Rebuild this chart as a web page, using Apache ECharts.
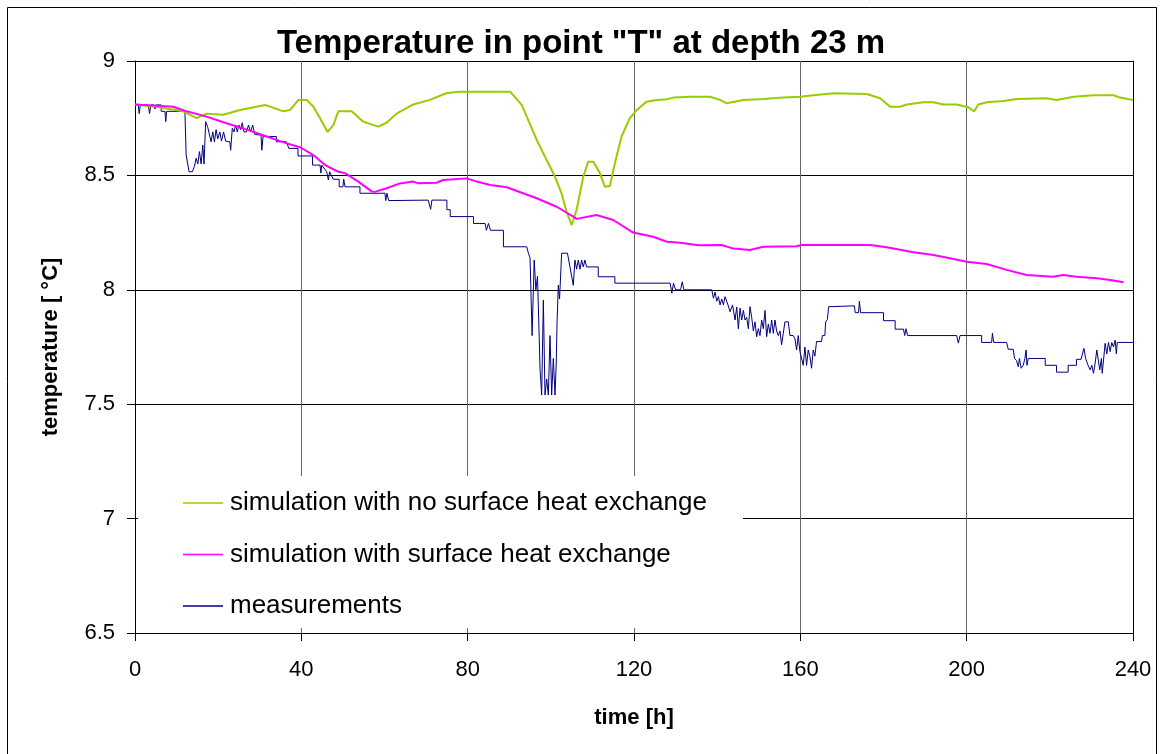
<!DOCTYPE html>
<html>
<head>
<meta charset="utf-8">
<title>Temperature in point "T" at depth 23 m</title>
<script src="https://cdn.jsdelivr.net/npm/echarts@6/dist/echarts.min.js"></script>
<style>
  html, body { margin: 0; padding: 0; background: #fff; }
  #chart { width: 1162px; height: 754px; }
</style>
</head>
<body>
<div id="chart"></div>
<script>
// Time axis ticks [h] and temperature axis ticks [°C]
const timeTicks = [0, 40, 80, 120, 160, 200, 240];
const tempTicks = [6.5, 7, 7.5, 8, 8.5, 9];

const seriesNames = [
  'simulation with no surface heat exchange',
  'simulation with surface heat exchange',
  'measurements'
];

// [time h, temperature °C]
const noSurfaceExchange = [
  [0, 8.81], [5, 8.80], [11.6, 8.78], [14.8, 8.75], [17.2, 8.77], [21.2, 8.765],
  [25.3, 8.786], [31.3, 8.808], [35.7, 8.78], [37.3, 8.786], [39.3, 8.83], [41.3, 8.83],
  [42.9, 8.80], [44.5, 8.75], [46.3, 8.69], [47.7, 8.72], [48.9, 8.78], [52.1, 8.78],
  [54.9, 8.735], [58.5, 8.713], [60.5, 8.73], [62.9, 8.77], [66.9, 8.81], [70.9, 8.83],
  [75, 8.86], [78.2, 8.866], [90.2, 8.866], [93, 8.808], [96.6, 8.655], [99, 8.567],
  [101, 8.494], [102.6, 8.42], [103.8, 8.34], [105, 8.283], [106.2, 8.35], [107.8, 8.494],
  [109, 8.56], [110.2, 8.56], [111.8, 8.51], [113, 8.45], [114.2, 8.454], [115.4, 8.553],
  [117, 8.67], [119, 8.75], [120.7, 8.786], [123, 8.822], [125.5, 8.83], [127.9, 8.833],
  [129.5, 8.84], [133.5, 8.844], [138.3, 8.844], [140.7, 8.83], [142.3, 8.815], [146.3, 8.83],
  [151.1, 8.834], [155.9, 8.84], [159.9, 8.844], [163.1, 8.85], [168, 8.859], [176, 8.856],
  [179.2, 8.837], [181.6, 8.80], [184, 8.80], [185.6, 8.81], [189.6, 8.82], [192, 8.82],
  [194.4, 8.81], [197.6, 8.81], [200.4, 8.798], [201.8, 8.78], [202.8, 8.81], [204.8, 8.82],
  [208.8, 8.825], [212, 8.834], [219.2, 8.837], [221.6, 8.83], [225.7, 8.844], [230.5, 8.85],
  [235.3, 8.85], [236.9, 8.84], [240, 8.83]
];

const withSurfaceExchange = [
  [0, 8.81], [9.2, 8.80], [12.4, 8.78], [17.2, 8.757], [22, 8.728], [26.9, 8.70],
  [31.7, 8.67], [36.5, 8.64], [39.7, 8.623], [42.9, 8.589], [45.7, 8.545], [48.9, 8.516],
  [50.5, 8.51], [53.7, 8.473], [56.9, 8.43], [57.7, 8.428], [60.5, 8.444], [63.7, 8.465],
  [66.9, 8.473], [68, 8.466], [72.5, 8.468], [74.1, 8.48], [79.8, 8.487], [82.2, 8.473],
  [85.4, 8.458], [89.4, 8.448], [96.6, 8.40], [101.4, 8.363], [105.4, 8.32], [106.2, 8.31],
  [111, 8.327], [115, 8.305], [119.8, 8.25], [124.6, 8.232], [127.9, 8.21], [131.1, 8.206],
  [135.5, 8.195], [141.1, 8.196], [143.9, 8.18], [147.9, 8.174], [151.1, 8.188], [159.1, 8.19],
  [160.3, 8.196], [176.8, 8.196], [180.8, 8.186], [187.2, 8.164], [192, 8.152], [196, 8.138],
  [200, 8.123], [204.8, 8.113], [209.6, 8.087], [214.4, 8.065], [220.8, 8.057], [223.2, 8.065],
  [226.4, 8.057], [231.3, 8.05], [234.5, 8.043], [237.7, 8.033]
];

const measured = [
  [0, 8.808], [0.8, 8.808], [1.0, 8.77], [1.3, 8.808], [3.2, 8.808], [3.5, 8.77], [3.8, 8.808],
  [4.6, 8.808], [4.8, 8.79], [5.0, 8.808], [6.3, 8.808], [6.3, 8.78], [7.2, 8.78], [7.4, 8.735],
  [7.6, 8.78], [12.0, 8.78], [12.3, 8.59], [13.0, 8.516], [13.8, 8.516], [14.3, 8.54], [14.7, 8.575],
  [15.1, 8.55], [15.5, 8.604], [15.9, 8.55], [16.3, 8.633], [16.6, 8.55], [17.0, 8.735], [17.5, 8.71],
  [18.3, 8.647], [18.7, 8.69], [19.1, 8.647], [19.5, 8.70], [19.9, 8.66], [20.4, 8.69], [20.8, 8.65],
  [21.3, 8.69], [21.8, 8.65], [22.8, 8.647], [23.0, 8.61], [23.4, 8.706], [23.8, 8.69], [24.2, 8.72],
  [24.6, 8.69], [25.0, 8.72], [25.4, 8.70], [25.8, 8.73], [26.2, 8.69], [26.8, 8.69], [27.3, 8.72],
  [27.8, 8.69], [28.3, 8.72], [28.8, 8.68], [29.6, 8.677], [30.3, 8.677], [30.5, 8.61], [30.8, 8.67],
  [34.0, 8.67], [34.0, 8.647], [36.4, 8.647], [37.0, 8.618], [39.2, 8.618], [39.2, 8.585],
  [42.7, 8.585], [42.7, 8.545], [44.5, 8.545], [44.7, 8.51], [44.9, 8.545], [46.1, 8.516],
  [46.5, 8.48], [46.8, 8.516], [47.7, 8.483], [49.1, 8.483], [49.1, 8.45], [50.0, 8.45],
  [50.2, 8.483], [50.5, 8.45], [54.1, 8.45], [54.1, 8.422], [60.1, 8.422], [60.3, 8.39],
  [60.6, 8.422], [61.0, 8.39], [61.2, 8.392], [70.5, 8.392], [71.1, 8.352], [71.4, 8.392],
  [75, 8.392], [75, 8.35], [75.8, 8.35], [75.8, 8.32], [81.4, 8.32], [81.4, 8.29], [84.2, 8.29],
  [84.5, 8.26], [85.0, 8.29], [85.5, 8.26], [88.6, 8.26], [88.6, 8.188], [94.2, 8.188],
  [94.6, 8.16], [95.0, 8.14], [95.5, 7.80], [96.0, 8.13], [96.4, 8.0], [96.8, 8.06], [97.4, 7.657],
  [97.8, 7.54], [98.2, 7.955], [98.6, 7.54], [99.0, 7.61], [99.4, 7.54], [99.8, 7.80], [100.2, 7.54],
  [100.6, 7.70], [101.0, 7.54], [101.3, 7.68], [101.5, 7.86], [101.8, 8.02], [102.1, 7.96],
  [102.6, 8.16], [104.0, 8.16], [104.6, 8.10], [105.4, 8.02], [105.8, 8.13], [106.2, 8.09],
  [106.6, 8.13], [107.0, 8.09], [107.4, 8.13], [107.8, 8.10], [108.2, 8.13], [108.6, 8.10],
  [111.4, 8.10], [111.4, 8.057], [115.4, 8.057], [115.4, 8.029], [128.7, 8.029], [129.1, 7.985],
  [129.5, 8.029], [130.0, 8.0], [131.2, 8.0], [131.6, 8.035], [132.0, 8.0], [138.7, 8.0],
  [139.1, 7.963], [139.5, 7.99], [139.9, 7.95], [140.3, 7.97], [140.7, 7.934], [141.1, 7.96],
  [141.5, 7.934], [141.9, 7.97], [142.6, 7.934], [143.1, 7.904], [143.7, 7.934], [144.3, 7.868],
  [144.7, 7.925], [145.1, 7.83], [145.5, 7.92], [145.9, 7.868], [146.3, 7.91], [146.7, 7.868],
  [147.1, 7.88], [147.5, 7.83], [147.9, 7.926], [148.3, 7.88], [148.7, 7.82], [149.1, 7.86],
  [149.5, 7.795], [149.9, 7.83], [150.3, 7.80], [150.7, 7.868], [151.1, 7.83], [151.5, 7.91],
  [151.9, 7.795], [152.3, 7.85], [152.7, 7.81], [153.1, 7.868], [153.5, 7.81], [153.9, 7.868],
  [154.3, 7.82], [154.7, 7.80], [155.1, 7.82], [155.5, 7.76], [155.9, 7.81], [156.3, 7.86],
  [156.7, 7.868], [157.1, 7.86], [157.5, 7.80], [158.3, 7.80], [158.7, 7.786], [159.1, 7.737],
  [159.5, 7.80], [159.9, 7.73], [160.3, 7.737], [160.7, 7.67], [161.1, 7.75], [161.5, 7.67],
  [161.9, 7.737], [162.3, 7.71], [162.7, 7.657], [163.1, 7.737], [163.5, 7.71], [163.9, 7.774],
  [165.1, 7.774], [165.3, 7.80], [165.9, 7.80], [166.1, 7.86], [166.5, 7.87], [166.8, 7.926],
  [173.0, 7.93], [173.2, 7.90], [174.0, 7.90], [174.2, 7.95], [174.5, 7.90], [180.0, 7.90],
  [180.0, 7.865], [182.8, 7.865], [182.8, 7.828], [184.8, 7.828], [185.1, 7.80], [185.4, 7.83],
  [185.8, 7.80], [197.6, 7.80], [198.0, 7.767], [198.4, 7.80], [203.6, 7.80], [203.6, 7.77],
  [206.0, 7.77], [206.2, 7.81], [206.5, 7.77], [209.6, 7.77], [210.0, 7.74], [211.2, 7.74],
  [211.5, 7.70], [212.0, 7.69], [212.4, 7.664], [212.7, 7.70], [213.1, 7.657], [213.6, 7.67],
  [214.0, 7.70], [214.3, 7.737], [214.5, 7.67], [214.8, 7.70], [218.9, 7.70], [218.9, 7.67],
  [221.6, 7.67], [221.6, 7.64], [224.4, 7.64], [224.4, 7.67], [226.4, 7.67], [226.4, 7.696],
  [227.5, 7.696], [228.2, 7.744], [228.6, 7.70], [229.2, 7.67], [229.7, 7.65], [230.1, 7.67],
  [230.5, 7.635], [230.9, 7.68], [231.3, 7.737], [231.6, 7.737], [232.0, 7.65], [232.4, 7.70],
  [232.6, 7.635], [233.0, 7.71], [233.3, 7.766], [233.7, 7.72], [234.1, 7.77], [234.5, 7.73],
  [234.9, 7.77], [235.3, 7.75], [235.7, 7.78], [236.0, 7.72], [236.2, 7.77], [240, 7.77]
];

const FONT = "'Liberation Sans', Arial, Helvetica, sans-serif";

const chart = echarts.init(document.getElementById('chart'), null, { renderer: 'canvas' });

chart.setOption({
  backgroundColor: '#ffffff',
  animation: false,
  title: {
    text: 'Temperature in point "T" at depth 23 m',
    left: 'center',
    top: 22,
    textStyle: { fontFamily: FONT, fontSize: 33, fontWeight: 'bold', color: '#000' }
  },
  graphic: [{
    type: 'rect',
    shape: { x: 7.5, y: 7.5, width: 1149, height: 800 },
    style: { fill: 'none', stroke: '#000', lineWidth: 1 },
    silent: true,
    z: -1
  }],
  legend: {
    orient: 'vertical',
    left: 138,
    top: 476,
    padding: [12, 36, 7, 45],
    backgroundColor: '#ffffff',
    itemWidth: 40,
    itemHeight: 14,
    itemGap: 21.5,
    selectedMode: false,
    icon: 'path://M0,6 L40,6 L40,7.5 L0,7.5 Z',
    textStyle: { fontFamily: FONT, fontSize: 26, lineHeight: 30, color: '#000', padding: [0, 0, 0, 2] },
    data: seriesNames
  },
  grid: {
    left: 135, right: 29, top: 61, bottom: 121,
    show: false
  },
  xAxis: {
    type: 'value',
    min: timeTicks[0],
    max: timeTicks[timeTicks.length - 1],
    interval: timeTicks[1] - timeTicks[0],
    name: 'time [h]',
    nameLocation: 'middle',
    nameGap: 74,
    nameTextStyle: { fontFamily: FONT, fontSize: 22, fontWeight: 'bold', color: '#000' },
    axisLine: { show: true, lineStyle: { color: '#000', width: 1 } },
    axisTick: { show: true, inside: false, length: 8, lineStyle: { color: '#000' } },
    axisLabel: { fontFamily: FONT, fontSize: 22, color: '#000', margin: 26 },
    splitLine: { show: true, lineStyle: { color: '#666666', width: 1 } }
  },
  yAxis: [{
    type: 'value',
    min: tempTicks[0],
    max: tempTicks[tempTicks.length - 1],
    interval: tempTicks[1] - tempTicks[0],
    name: 'temperature [ °C]',
    nameLocation: 'middle',
    nameGap: 73,
    nameRotate: 90,
    nameTextStyle: { fontFamily: FONT, fontSize: 22, fontWeight: 'bold', color: '#000' },
    axisLine: { show: true, lineStyle: { color: '#000', width: 1 } },
    axisTick: { show: true, inside: false, length: 8, lineStyle: { color: '#000' } },
    axisLabel: { fontFamily: FONT, fontSize: 22, color: '#000', margin: 20 },
    splitLine: { show: true, lineStyle: { color: '#000', width: 1 } }
  }, {
    type: 'value',
    position: 'right',
    min: tempTicks[0],
    max: tempTicks[tempTicks.length - 1],
    interval: tempTicks[1] - tempTicks[0],
    axisLine: { show: true, lineStyle: { color: '#000', width: 1 } },
    axisTick: { show: false },
    axisLabel: { show: false },
    splitLine: { show: false },
    z: 3
  }],
  series: [{
    name: seriesNames[0],
    type: 'line',
    data: noSurfaceExchange,
    symbol: 'none',
    z: 3,
    lineStyle: { color: '#99CC00', width: 2 },
    itemStyle: { color: '#99CC00' }
  }, {
    name: seriesNames[1],
    type: 'line',
    data: withSurfaceExchange,
    symbol: 'none',
    z: 4,
    lineStyle: { color: '#FF00FF', width: 2 },
    itemStyle: { color: '#FF00FF' }
  }, {
    name: seriesNames[2],
    type: 'line',
    data: measured,
    symbol: 'none',
    z: 2,
    lineStyle: { color: '#000080', width: 1 },
    itemStyle: { color: '#000080' }
  }]
});
</script>
</body>
</html>
